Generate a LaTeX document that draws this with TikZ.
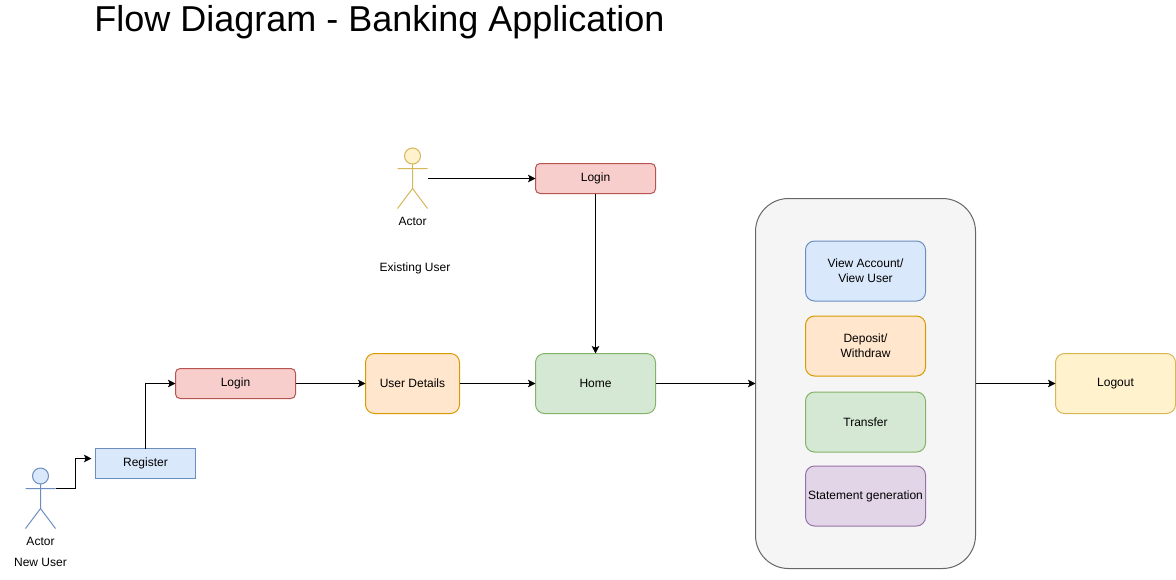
\documentclass[tikz,border=0pt]{standalone}
\usepackage{fontspec}
\setmainfont{Liberation Sans}
\usetikzlibrary{arrows.meta,positioning,calc}
\definecolor{bluefill}{HTML}{DAE8FC}
\definecolor{blueline}{HTML}{6C8EBF}
\definecolor{redfill}{HTML}{F8CECC}
\definecolor{redline}{HTML}{B85450}
\definecolor{orangefill}{HTML}{FFE6CC}
\definecolor{orangeline}{HTML}{D79B00}
\definecolor{greenfill}{HTML}{D5E8D4}
\definecolor{greenline}{HTML}{82B366}
\definecolor{purplefill}{HTML}{E1D5E7}
\definecolor{purpleline}{HTML}{9673A6}
\definecolor{yellowfill}{HTML}{FFF2CC}
\definecolor{yellowline}{HTML}{D6B656}
\definecolor{panelfill}{HTML}{F5F5F5}
\definecolor{panelline}{HTML}{666666}
\tikzset{
    flowbox/.style={rectangle, line width=0.75pt, inner sep=0pt, outer sep=0pt, align=center, font=\fontsize{9}{11.25}\selectfont, minimum width=90pt, minimum height=45pt, rounded corners=6.75pt},
    shortbox/.style={flowbox, minimum height=22.5pt, rounded corners=3.4pt},
    label/.style={inner sep=0pt, font=\fontsize{9}{11.25}\selectfont},
    flow/.style={-{Stealth[length=5.6pt,width=5.6pt,inset=1.2pt]}, line width=0.75pt, black},
    actorbody/.style={line width=0.75pt}
}
\begin{document}
\begin{tikzpicture}[x=0.75pt, y=-0.75pt]
    \useasboundingbox (0,0) rectangle (1176,579);

    % Title
    \node[inner sep=0pt, font=\fontsize{27}{32}\selectfont] (title) at (379.5,22) {Flow Diagram - Banking Application};

    % New user actor
    \node[minimum width=22.5pt, minimum height=45pt, inner sep=0pt, outer sep=0pt] (newuser) at (40.5,498.5) {};
    \draw[actorbody, draw=blueline, fill=bluefill] (40.5,476) circle (8);
    \draw[actorbody, draw=blueline] (40.5,484) -- (40.5,508.5) (25.5,488.5) -- (55.5,488.5) (25.5,528.5) -- (40.5,508.5) -- (55.5,528.5);
    \coordinate (newuserarm) at (55.5,488.5);
    \coordinate (registerin) at (91.5,458.5);
    \node[label] (newuserlabel) at (40.5,541.5) {Actor};
    \node[label] (newusertext) at (40.5,562.5) {New User};

    % Existing user actor
    \node[minimum width=22.5pt, minimum height=45pt, inner sep=0pt, outer sep=0pt] (existing) at (412.5,178.5) {};
    \draw[actorbody, draw=yellowline, fill=yellowfill] (412.5,156) circle (8);
    \draw[actorbody, draw=yellowline] (412.5,164) -- (412.5,188.5) (397.5,168.5) -- (427.5,168.5) (397.5,208.5) -- (412.5,188.5) -- (427.5,208.5);
    \node[label] (existinglabel) at (412.5,221.5) {Actor};
    \node[label] (existingtext) at (415,268.5) {Existing User};

    % Main flow
    \node[shortbox, rounded corners=0pt, minimum width=75pt, draw=blueline, fill=bluefill] (register) at (145.5,463.5) {Register};
    \node[shortbox, draw=redline, fill=redfill] (loginnew) at (235.5,383.5) {Login};
    \node[flowbox, minimum width=70.5pt, draw=orangeline, fill=orangefill] (details) at (412.5,383.5) {User Details};
    \node[flowbox, draw=greenline, fill=greenfill] (home) at (595.5,383.5) {Home};
    \node[shortbox, draw=redline, fill=redfill] (loginold) at (595.5,178.5) {Login};
    \node[flowbox, draw=yellowline, fill=yellowfill] (logout) at (1115.5,383.5) {Logout};

    % Services panel
    \node[flowbox, minimum width=165pt, minimum height=277.5pt, rounded corners=24.75pt, draw=panelline, fill=panelfill] (panel) at (865.5,383.5) {};
    \node[flowbox, draw=blueline, fill=bluefill] (view) at (865.5,271) {View Account/\\View User};
    \node[flowbox, draw=orangeline, fill=orangefill] (deposit) at (865.5,346) {Deposit/\\Withdraw};
    \node[flowbox, draw=greenline, fill=greenfill] (transfer) at (865.5,422) {Transfer};
    \node[flowbox, draw=purpleline, fill=purplefill] (statement) at (865.5,496) {Statement generation};

    % Connectors
    \draw[flow] (newuserarm) -- ++(20,0) |- (registerin);
    \draw[flow] (register.north) |- (loginnew.west);
    \draw[flow] (loginnew.east) -- (details.west);
    \draw[flow] (details.east) -- (home.west);
    \draw[flow] (existing.east) -- (loginold.west);
    \draw[flow] (loginold.south) -- (home.north);
    \draw[flow] (home.east) -- (panel.west);
    \draw[flow] (panel.east) -- (logout.west);
\end{tikzpicture}
\end{document}
